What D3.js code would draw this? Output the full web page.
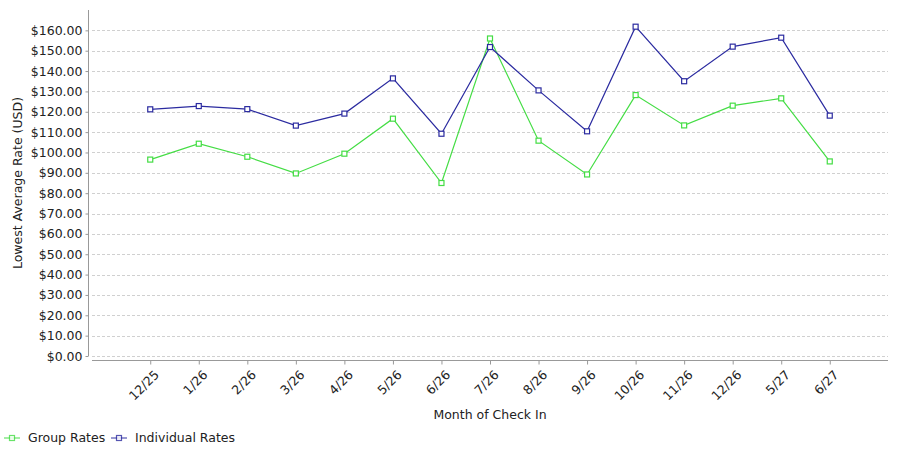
<!DOCTYPE html>
<html>
<head>
<meta charset="utf-8">
<script src="https://cdn.jsdelivr.net/npm/d3@7"></script>
<style>
  body { margin: 0; background: #fff; }
  svg { display: block; font-family: "DejaVu Sans", sans-serif; }
</style>
</head>
<body>
<svg id="chart" width="900" height="450"></svg>
<script>
const categories = ["12/25","1/26","2/26","3/26","4/26","5/26","6/26","7/26","8/26","9/26","10/26","11/26","12/26","5/27","6/27"];
const groupRates = [96.5,104.3,97.9,89.7,99.4,116.6,85.0,156.0,105.8,89.2,128.2,113.3,123.0,126.6,95.6];
const individualRates = [121.2,122.8,121.3,113.2,119.1,136.4,109.2,151.8,130.5,110.4,161.8,135.0,152.0,156.4,118.1];
const yTicks = [0,10,20,30,40,50,60,70,80,90,100,110,120,130,140,150,160];
const seriesNames = ["Group Rates", "Individual Rates"];
const seriesColors = ["#44dd44", "#2b2ba0"];

const svg = d3.select("#chart");
const plot = {left: 92, right: 888, top: 10, bottom: 356};

const x = d3.scalePoint().domain(categories).range([plot.left, plot.right]).padding(1.2);
const y = d3.scaleLinear().domain([0, 170]).range([plot.bottom, plot.top]);

// gridlines
svg.append("g").selectAll("line").data(yTicks).join("line")
  .attr("x1", plot.left).attr("x2", plot.right)
  .attr("y1", d => Math.round(y(d)) + 0.5).attr("y2", d => Math.round(y(d)) + 0.5)
  .attr("stroke", "#d0d0d0").attr("stroke-width", 1).attr("stroke-dasharray", "3,2");

// y axis
const yAxis = d3.axisLeft(y).tickValues(yTicks).tickSize(3).tickPadding(3)
  .tickFormat(d => "$" + d3.format(".2f")(d));
const gy = svg.append("g").attr("transform", `translate(${plot.left - 3.5},0)`).call(yAxis);
gy.select(".domain").attr("d", `M0,${plot.top}V${plot.bottom}`).attr("stroke", "#999");
gy.selectAll(".tick line").attr("stroke", "#999");
gy.selectAll(".tick text").attr("font-size", 12.5).attr("fill", "#222")
  .attr("font-family", "DejaVu Sans, sans-serif");

// x axis
const xAxis = d3.axisBottom(x).tickSize(4).tickFormat(d => d);
const gx = svg.append("g").attr("transform", `translate(0,${plot.bottom + 4.5})`).call(xAxis);
gx.select(".domain").attr("d", `M${plot.left},0H${plot.right}`).attr("stroke", "#999");
gx.selectAll(".tick line").attr("stroke", "#999");
gx.selectAll(".tick text")
  .attr("font-size", 12.5).attr("fill", "#222")
  .attr("font-family", "DejaVu Sans, sans-serif")
  .attr("text-anchor", "end")
  .attr("dy", "0.35em")
  .attr("transform", "translate(6,12) rotate(-45)")
  .attr("y", 0).attr("x", 0);

// axis titles
svg.append("text").attr("x", (plot.left + plot.right) / 2).attr("y", 419)
  .attr("text-anchor", "middle").attr("font-size", 12.5).attr("fill", "#222")
  .text("Month of Check In");
svg.append("text").attr("transform", `translate(22,${(plot.top + plot.bottom) / 2}) rotate(-90)`)
  .attr("text-anchor", "middle").attr("font-size", 12.5).attr("fill", "#222")
  .text("Lowest Average Rate (USD)");

// series
const allSeries = [groupRates, individualRates];
const line = d3.line().x((d, i) => x(categories[i])).y(d => y(d));
allSeries.forEach((vals, si) => {
  const g = svg.append("g");
  g.append("path").datum(vals).attr("d", line)
    .attr("fill", "none").attr("stroke", seriesColors[si]).attr("stroke-width", 1.2);
  g.selectAll("rect").data(vals).join("rect")
    .attr("x", (d, i) => x(categories[i]) - 2.5).attr("y", d => y(d) - 2.5)
    .attr("width", 5).attr("height", 5)
    .attr("fill", "#fff").attr("stroke", seriesColors[si]).attr("stroke-width", 1.2);
});

// legend
const legendItems = [{x: 4}, {x: 111}];
legendItems.forEach((it, si) => {
  const g = svg.append("g").attr("transform", `translate(${it.x},438)`);
  g.append("line").attr("x1", 0).attr("x2", 16).attr("y1", 0).attr("y2", 0)
    .attr("stroke", seriesColors[si]).attr("stroke-width", 1.2).attr("opacity", 0.8);
  g.append("rect").attr("x", 5.5).attr("y", -2.5).attr("width", 5).attr("height", 5)
    .attr("fill", "#fff").attr("stroke", seriesColors[si]).attr("stroke-width", 1.2).attr("opacity", 0.8);
  g.append("text").attr("x", 24).attr("y", 0).attr("dy", "0.35em")
    .attr("font-size", 12.5).attr("fill", "#222").text(seriesNames[si]);
});
</script>
</body>
</html>
